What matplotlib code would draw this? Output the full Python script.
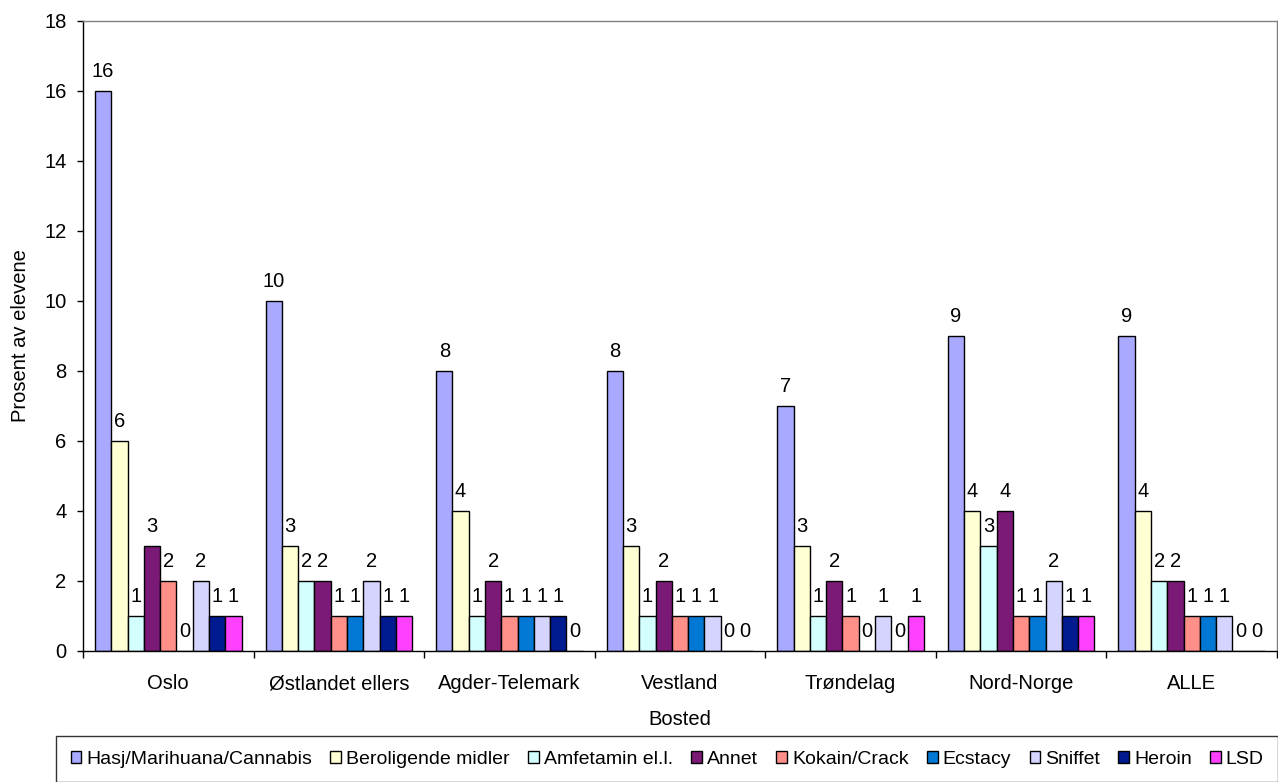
import matplotlib
matplotlib.use("Agg")

import matplotlib.pyplot as plt
import numpy as np

plt.rcParams["font.family"] = ["Liberation Sans", "DejaVu Sans"]

regions = ["Oslo", "Østlandet ellers", "Agder-Telemark", "Vestland",
           "Trøndelag", "Nord-Norge", "ALLE"]

hasj = [16, 10, 8, 8, 7, 9, 9]
beroligende = [6, 3, 4, 3, 3, 4, 4]
amfetamin = [1, 2, 1, 1, 1, 3, 2]
annet = [3, 2, 2, 2, 2, 4, 2]
kokain = [2, 1, 1, 1, 1, 1, 1]
ecstacy = [0, 1, 1, 1, 0, 1, 1]
sniffet = [2, 2, 1, 1, 1, 2, 1]
heroin = [1, 1, 1, 0, 0, 1, 0]
lsd = [1, 1, 0, 0, 1, 1, 0]

series_names = ["Hasj/Marihuana/Cannabis", "Beroligende midler", "Amfetamin el.l.",
                "Annet", "Kokain/Crack", "Ecstacy", "Sniffet", "Heroin", "LSD"]
series_values = [hasj, beroligende, amfetamin, annet, kokain, ecstacy,
                 sniffet, heroin, lsd]
colors = ["#A9A9FF", "#FFFFD4", "#D4FFFF", "#7B1A76", "#FF9089",
          "#0078D4", "#D4D4FF", "#001A90", "#FF40FF"]

fs = 14.5

fig = plt.figure(figsize=(12.78, 7.82), dpi=100)
ax = fig.add_axes([83 / 1278, 1 - 650.5 / 782, 1194 / 1278, 630 / 782])

x = np.arange(len(regions))
w = 0.0955
n = len(series_names)

for i, (name, vals, c) in enumerate(zip(series_names, series_values, colors)):
    pos = x + (i - (n - 1) / 2) * w
    ax.bar(pos, vals, width=w, color=c, edgecolor="black", linewidth=1.0, label=name)
    for px, v in zip(pos, vals):
        ax.annotate(str(v), (px, v), xytext=(0, 9.5), textcoords="offset points",
                    ha="center", va="baseline", fontsize=fs)

ax.set_xlim(-0.5, len(regions) - 0.5)
ax.set_ylim(0, 18)
ax.set_yticks(range(0, 19, 2))
ax.set_xticks(x)
ax.set_xticklabels(regions, fontsize=fs)
ax.set_xticks(np.arange(-0.5, len(regions) + 0.5, 1), minor=True)
ax.tick_params(axis="x", which="major", length=0, pad=17)
ax.tick_params(axis="x", which="minor", length=5, width=1, direction="out")
ax.tick_params(axis="y", length=4.3, width=1, direction="out", labelsize=fs, pad=7.5)

ax.spines["top"].set_color("#808080")
ax.spines["right"].set_color("#808080")
for s in ax.spines.values():
    s.set_linewidth(1.0)

ax.set_xlabel("Bosted", fontsize=fs, labelpad=12)
ax.set_ylabel("Prosent av elevene", fontsize=fs, labelpad=10)

# legend runs to the right edge like in the original, but keep "LSD" inside
leg = fig.legend(loc="upper left", bbox_to_anchor=(56 / 1278, 1 - 736 / 782),
                 ncol=9, fontsize=14.0, frameon=True, fancybox=False,
                 edgecolor="black", borderaxespad=0, borderpad=0.75,
                 handlelength=0.55, handleheight=0.55, handletextpad=0.25,
                 columnspacing=0.95)
leg.get_frame().set_linewidth(1.0)

fig.savefig("out.png", dpi=100)
plt.close(fig)
